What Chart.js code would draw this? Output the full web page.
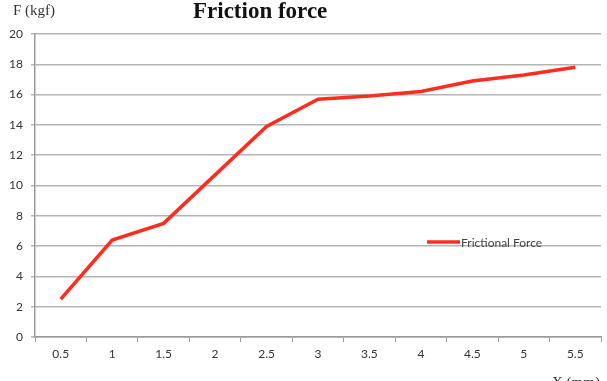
<!DOCTYPE html>
<html>
<head>
<meta charset="utf-8">
<script src="https://cdn.jsdelivr.net/npm/chart.js@4.4.1/dist/chart.umd.min.js"></script>
<style>
  html, body { margin: 0; padding: 0; background: #fff; }
  #wrap { width: 607px; height: 381px; position: relative; }
</style>
</head>
<body>
<div id="wrap"><canvas id="chart"></canvas></div>
<script>
// datos
const categorias = ['0.5', '1', '1.5', '2', '2.5', '3', '3.5', '4', '4.5', '5', '5.5'];
const fuerza = [2.5, 6.4, 7.5, 10.7, 13.9, 15.7, 15.9, 16.2, 16.9, 17.3, 17.8];
const serieNombre = 'Frictional Force';
const tituloTexto = 'Friction force';
const ejeY = 'F (kgf)';
const ejeX = 'X (mm)';

const rojo = '#ff2d1f';
const fuenteTicks = "'Lato', 'Open Sans', sans-serif";

// textos fijos: titulo, etiquetas de ejes y leyenda dentro del grafico
const textosPlugin = {
    id: 'textos',
    afterDraw(chart) {
        const ctx = chart.ctx;
        ctx.save();
        ctx.textBaseline = 'alphabetic';
        ctx.textAlign = 'left';

        ctx.fillStyle = '#111';
        ctx.font = "bold 23px 'Liberation Serif', 'Times New Roman', serif";
        ctx.fillText(tituloTexto, 193, 18);

        ctx.fillStyle = '#333';
        ctx.font = "15px 'Liberation Serif', 'Times New Roman', serif";
        ctx.fillText(ejeY, 13, 15);
        ctx.fillText(ejeX, 552, 387);

        // leyenda
        const lx = 427, ly = 242;
        ctx.strokeStyle = rojo;
        ctx.lineWidth = 3.5;
        ctx.beginPath();
        ctx.moveTo(lx, ly);
        ctx.lineTo(lx + 33, ly);
        ctx.stroke();
        ctx.fillStyle = '#444';
        ctx.font = "12px " + fuenteTicks;
        ctx.textBaseline = 'middle';
        ctx.fillText(serieNombre, lx + 34, ly + 1);
        ctx.restore();
    }
};

new Chart(document.getElementById('chart').getContext('2d'), {
    type: 'line',
    data: {
        labels: categorias,
        datasets: [{
            label: serieNombre,
            data: fuerza,
            borderColor: rojo,
            borderWidth: 3.5,
            pointRadius: 0,
            tension: 0,
            fill: false
        }]
    },
    options: {
        responsive: true,
        maintainAspectRatio: false,
        animation: false,
        layout: { padding: { top: 34, right: 6, left: 0, bottom: 0 } },
        plugins: {
            legend: { display: false },
            title: { display: false },
            tooltip: { enabled: false }
        },
        scales: {
            x: {
                offset: true,
                grid: { offset: true, drawOnChartArea: false, drawTicks: true, tickLength: 5, color: '#999' },
                border: { color: '#999', width: 1.5 },
                ticks: { color: '#333', font: { family: fuenteTicks, size: 12 }, padding: 5, maxRotation: 0 },
                afterFit: s => { s.height = 44; }
            },
            y: {
                min: 0,
                max: 20,
                ticks: { stepSize: 2, color: '#333', font: { family: fuenteTicks, size: 12 }, padding: 8 },
                grid: { color: '#b4b4b4', lineWidth: 1.5, tickLength: 4 },
                border: { color: '#999', width: 1.5 },
                afterFit: s => { s.width = 35; }
            }
        }
    },
    plugins: [textosPlugin]
});
</script>
</body>
</html>
